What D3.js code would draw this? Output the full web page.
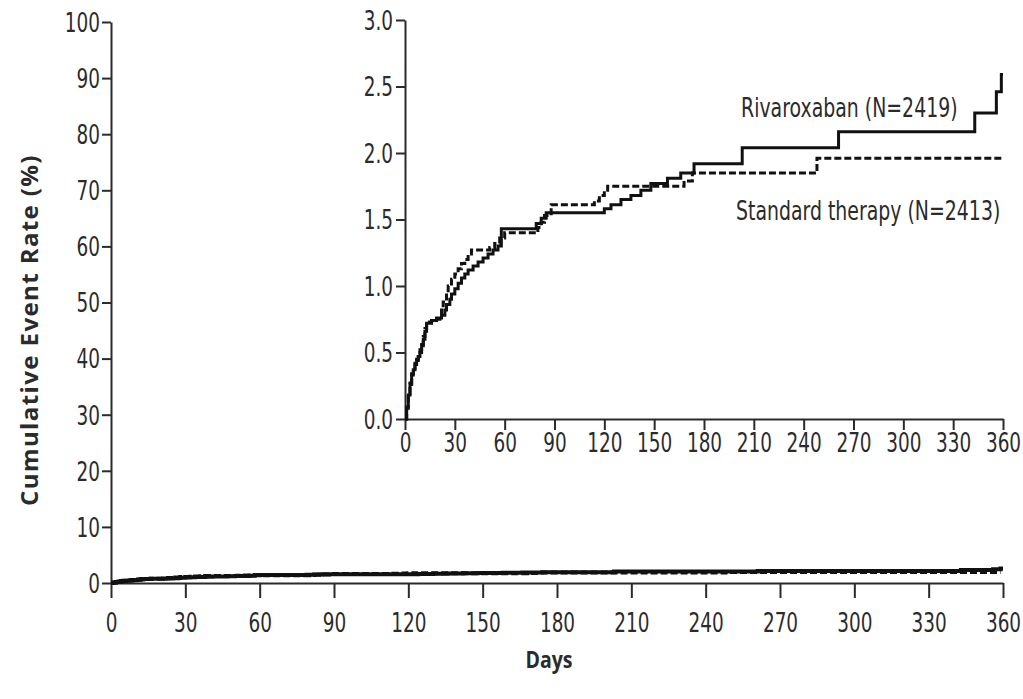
<!DOCTYPE html>
<html>
<head>
<meta charset="utf-8">
<script src="https://cdn.jsdelivr.net/npm/d3@7"></script>
<style>
  html, body { margin: 0; padding: 0; background: #fff; }
  svg { display: block; }
  .num { font-family: 'DejaVu Sans', sans-serif; fill: #2b2b2b; }
  .ttl { font-family: 'Open Sans', 'DejaVu Sans', sans-serif; font-weight: bold; fill: #2b2b2b; }
</style>
</head>
<body>
<svg id="chart" width="1023" height="699"></svg>
<script>
// ---- data ----
const xTicks = [0, 30, 60, 90, 120, 150, 180, 210, 240, 270, 300, 330, 360];
const mainYTicks = [0, 10, 20, 30, 40, 50, 60, 70, 80, 90, 100];
const insetYTicks = [0.0, 0.5, 1.0, 1.5, 2.0, 2.5, 3.0];

const rivaDays = [0,1,2,3,4,5,6,7,8,9,10,11,12,13,16,19,22,24,25,27,28,30,32,34,36,38,41,44,47,50,53,56,58,79,82,85,120,124,130,136,142,148,158,166,174,203,261,343,356,359,360];
const rivaRate = [0,0.08,0.18,0.26,0.33,0.37,0.41,0.44,0.47,0.50,0.55,0.60,0.66,0.72,0.74,0.76,0.78,0.82,0.86,0.90,0.94,0.98,1.02,1.06,1.09,1.12,1.15,1.18,1.21,1.24,1.27,1.30,1.43,1.47,1.51,1.55,1.58,1.61,1.65,1.68,1.72,1.77,1.81,1.85,1.92,2.04,2.16,2.30,2.46,2.59,2.59];

const stdDays = [0,1,2,3,4,5,6,7,8,9,10,11,12,13,16,19,21,22,23,25,26,28,30,32,34,36,38,40,51,54,57,60,80,82,84,88,114,117,120,122,168,173,248,359];
const stdRate = [0,0.09,0.19,0.27,0.34,0.38,0.42,0.45,0.48,0.52,0.56,0.62,0.68,0.73,0.74,0.75,0.78,0.84,0.88,0.95,1.00,1.05,1.09,1.13,1.17,1.20,1.24,1.27,1.29,1.32,1.36,1.40,1.44,1.48,1.53,1.61,1.64,1.68,1.72,1.75,1.79,1.85,1.96,1.96];

const seriesNames = ["Rivaroxaban (N=2419)", "Standard therapy (N=2413)"];
const xTitle = "Days";
const yTitle = "Cumulative Event Rate (%)";

// ---- build ----
const riva = rivaDays.map((d, i) => ({ day: d, v: rivaRate[i] }));
const std = stdDays.map((d, i) => ({ day: d, v: stdRate[i] }));

const svg = d3.select("#chart");
const ink = "#2b2b2b";
const SX = 0.71; // horizontal condensing of the number font
const LX = 0.70; // horizontal condensing of the legend labels

// main scales
const mx = d3.scaleLinear().domain([0, 360]).range([111, 1003]);
const my = d3.scaleLinear().domain([0, 100]).range([583, 22]);
// inset scales
const ix = d3.scaleLinear().domain([0, 360]).range([405, 1003]);
const iy = d3.scaleLinear().domain([0, 3]).range([419, 20]);

function styleAxis(g) {
  g.select(".domain").attr("stroke", ink).attr("stroke-width", 2);
  g.selectAll(".tick line").attr("stroke", ink).attr("stroke-width", 2);
  g.selectAll(".tick text").attr("class", "num").attr("fill", ink)
    .attr("font-size", 26).attr("transform", `scale(${SX},1)`);
}

// main x axis
const gmx = svg.append("g").attr("transform", "translate(0,583)")
  .call(d3.axisBottom(mx).tickValues(xTicks).tickFormat(d3.format("d")).tickSize(15).tickSizeOuter(0));
styleAxis(gmx);
gmx.selectAll(".tick text").attr("dy", 0).attr("y", 49);

// main y axis
const gmy = svg.append("g").attr("transform", "translate(111,0)")
  .call(d3.axisLeft(my).tickValues(mainYTicks).tickFormat(d3.format("d")).tickSize(9).tickSizeOuter(0));
styleAxis(gmy);
gmy.selectAll(".tick text").attr("dy", "0.36em").attr("x", -11 / SX);

// inset x axis
const gix = svg.append("g").attr("transform", "translate(0,419)")
  .call(d3.axisBottom(ix).tickValues(xTicks).tickFormat(d3.format("d")).tickSize(11).tickSizeOuter(0));
styleAxis(gix);
gix.selectAll(".tick text").attr("dy", 0).attr("y", 33);

// inset y axis
const giy = svg.append("g").attr("transform", "translate(405,0)")
  .call(d3.axisLeft(iy).tickValues(insetYTicks).tickFormat(d3.format(".1f")).tickSize(9).tickSizeOuter(0));
styleAxis(giy);
giy.selectAll(".tick text").attr("dy", "0.36em").attr("x", -12 / SX);

// curves
const mainLine = d3.line().curve(d3.curveStepAfter).x(d => mx(d.day)).y(d => my(d.v));
const insetLine = d3.line().curve(d3.curveStepAfter).x(d => ix(d.day)).y(d => iy(d.v));

svg.append("path").datum(std).attr("d", mainLine).attr("fill", "none")
  .attr("stroke", "#111").attr("stroke-width", 4).attr("stroke-dasharray", "7,3");
svg.append("path").datum(riva).attr("d", mainLine).attr("fill", "none")
  .attr("stroke", "#111").attr("stroke-width", 4);

svg.append("path").datum(std).attr("d", insetLine).attr("fill", "none")
  .attr("stroke", "#111").attr("stroke-width", 3).attr("stroke-dasharray", "7,3");
svg.append("path").datum(riva).attr("d", insetLine).attr("fill", "none")
  .attr("stroke", "#111").attr("stroke-width", 3);

// legend labels
svg.append("g").attr("transform", `translate(741,117) scale(${LX},1)`)
  .append("text").attr("class", "num").attr("font-size", 27).text(seriesNames[0]);
svg.append("g").attr("transform", `translate(736,220) scale(${LX},1)`)
  .append("text").attr("class", "num").attr("font-size", 27).text(seriesNames[1]);

// titles
svg.append("text").attr("class", "ttl").attr("font-size", 24).attr("letter-spacing", 1.4)
  .attr("text-anchor", "middle").attr("transform", "translate(38,330) rotate(-90)")
  .text(yTitle);
svg.append("g").attr("transform", "translate(549,668) scale(0.85,1)")
  .append("text").attr("class", "ttl").attr("font-size", 23).attr("text-anchor", "middle")
  .text(xTitle);
</script>
</body>
</html>
